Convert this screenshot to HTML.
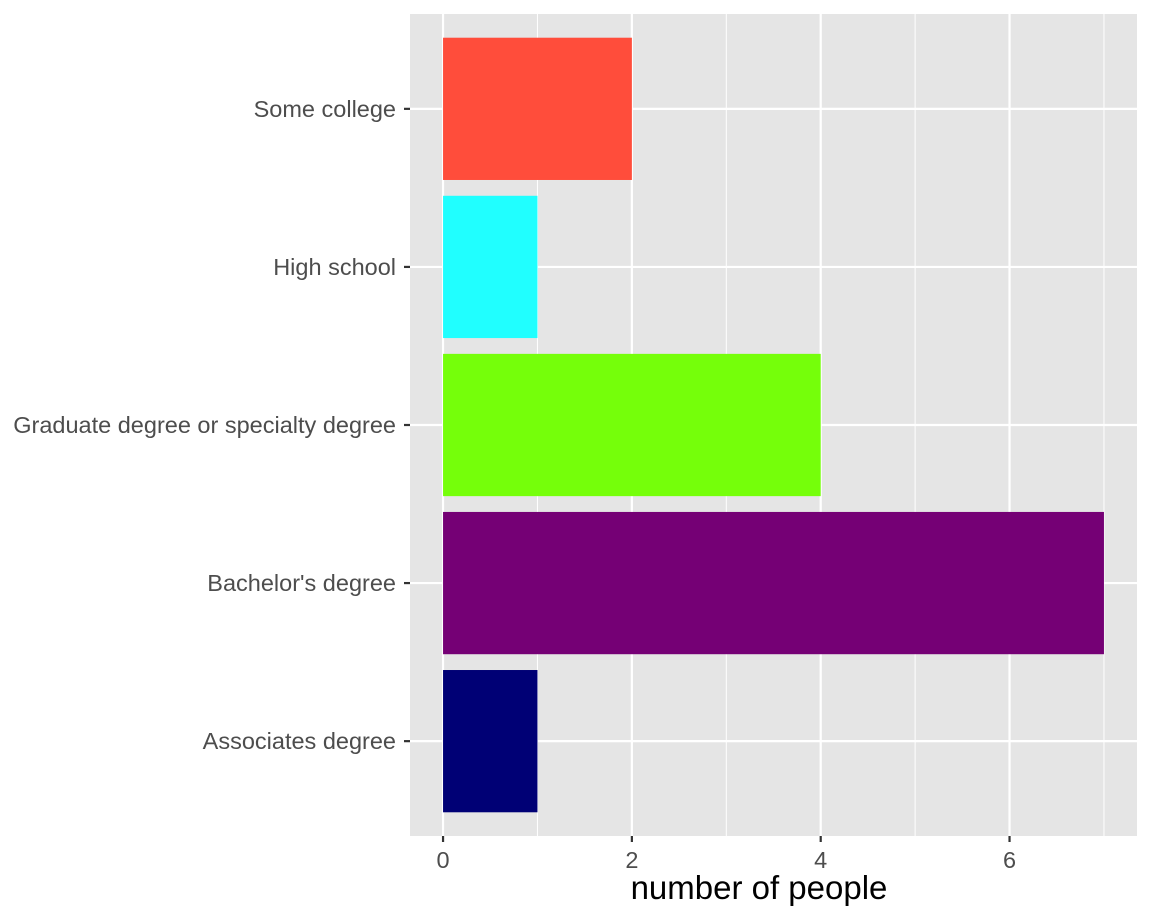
<!DOCTYPE html>
<html><head><meta charset="utf-8"><style>
body{margin:0;background:#fff;}
svg{display:block;font-family:"Liberation Sans",Arial,sans-serif;}
</style></head><body>
<svg id="chart" width="1152" height="921"></svg>
<script>
const categories = ["Associates degree","Bachelor's degree","Graduate degree or specialty degree","High school","Some college"];
const values = [1,7,4,1,2];
const colors = ["#000075","#750075","#75FF0A","#20FFFF","#FF4D3B"];
const xTicks = [0,2,4,6];
const xMinor = [1,3,5,7];

const svg = document.getElementById('chart');
const NS = 'http://www.w3.org/2000/svg';
const P = {l:410, r:1137, t:14, b:836};
const xmin=0, xmax=7, xpad=(xmax-xmin)*0.05;
function x(v){return P.l + (v-(xmin-xpad))/((xmax+xpad)-(xmin-xpad))*(P.r-P.l);}
const n=categories.length;
function y(i){
  const lo=0.4, hi=n+0.6; const pos=i+1;
  return P.b - (pos-lo)/(hi-lo)*(P.b-P.t);
}
const band=(P.b-P.t)/(n+0.2);
function mk(tag,attrs,parent){const e=document.createElementNS(NS,tag);for(const k in attrs)e.setAttribute(k,attrs[k]);(parent||svg).appendChild(e);return e;}

const bg=mk('rect',{x:P.l,y:P.t,width:P.r-P.l,height:P.b-P.t,fill:'#E5E5E5'});


xMinor.forEach(v=>{const l=mk('line',{x1:x(v),x2:x(v),y1:P.t,y2:P.b,stroke:'#fff','stroke-width':1});

});
xTicks.forEach(v=>{const l=mk('line',{x1:x(v),x2:x(v),y1:P.t,y2:P.b,stroke:'#fff','stroke-width':2.2});

});
categories.forEach((c,i)=>{const l=mk('line',{x1:P.l,x2:P.r,y1:y(i),y2:y(i),stroke:'#fff','stroke-width':2.2});

});
categories.forEach((c,i)=>{
  const h=band*0.9;
  const r=mk('rect',{x:x(0),y:y(i)-h/2,width:x(values[i])-x(0),height:h,fill:colors[i]});
  
  
  const t=mk('line',{x1:P.l-6,x2:P.l,y1:y(i),y2:y(i),stroke:'#333','stroke-width':2.2});
  
  
  const lb=mk('text',{x:P.l-14,y:y(i)+8,'text-anchor':'end','font-size':23.5,fill:'#4D4D4D'});
  lb.textContent=c;
  
  
});
xTicks.forEach(v=>{
  const t=mk('line',{x1:x(v),x2:x(v),y1:P.b,y2:P.b+6,stroke:'#333','stroke-width':2.2});
  
  
  const lb=mk('text',{x:x(v),y:P.b+32,'text-anchor':'middle','font-size':23.5,fill:'#4D4D4D'});
  lb.textContent=v;
  
  
});
const tt=mk('text',{x:759,y:899,'text-anchor':'middle','font-size':33,fill:'#000'});
tt.textContent='number of people';


</script>
</body></html>
